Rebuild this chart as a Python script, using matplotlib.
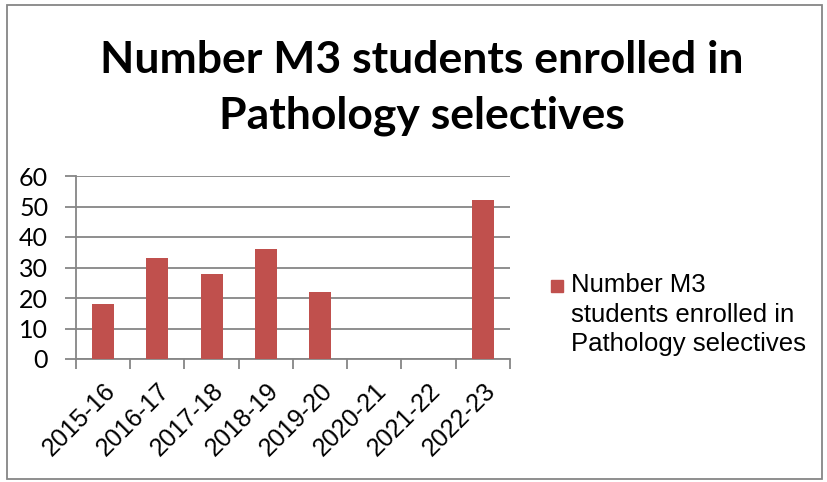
import matplotlib
matplotlib.use('Agg')
import matplotlib.pyplot as plt
from matplotlib.patches import Rectangle

years = ['2015-16', '2016-17', '2017-18', '2018-19', '2019-20', '2020-21', '2021-22', '2022-23']
students = [18, 33, 28, 36, 22, 0, 0, 52]
serie = 'Number M3\nstudents enrolled in\nPathology selectives'
titulo = 'Number M3 students enrolled in\nPathology selectives'

W, H = 828, 482
fig = plt.figure(figsize=(W / 100, H / 100), dpi=100)
ax = fig.add_axes([76 / W, 1 - 359 / H, (510 - 76) / W, (359 - 176) / H])

gris = '#868686'
rojo = '#C0504D'

pos = [i + 0.5 for i in range(len(years))]
ax.bar(pos, students, width=0.41, color=rojo, zorder=3)

ax.set_xlim(0, len(years))
ax.set_ylim(0, 60)
ax.set_yticks(range(0, 61, 10))
ax.yaxis.grid(True, color=gris, linewidth=1.3, zorder=0)
ax.set_xticks(range(len(years) + 1))
ax.set_xticklabels([])
ax.set_xticks(pos, minor=True)
ax.set_xticklabels(years, minor=True, rotation=45, ha='right', va='top',
                   rotation_mode='anchor', fontsize=18, family='Liberation Sans')
ax.tick_params(axis='x', which='minor', length=0, pad=14)
ax.tick_params(axis='x', which='major', length=7, color=gris, width=1.3)
ax.tick_params(axis='y', length=8, color=gris, width=1.3, pad=12)
for t in ax.get_yticklabels():
    t.set_fontsize(18)
    t.set_family('Lato')

for s in ['top', 'right']:
    ax.spines[s].set_visible(False)
for s in ['left', 'bottom']:
    ax.spines[s].set_color(gris)
    ax.spines[s].set_linewidth(1.3)

fig.text(422 / W, 1 - 88 / H, titulo, ha='center', va='center', fontsize=32,
         fontweight='bold', family='Lato', linespacing=1.45)

# leyenda
fig.patches.append(Rectangle((551 / W, 1 - 292 / H), 12 / W, 12 / H,
                             transform=fig.transFigure, color=rojo))
fig.text(571 / W, 1 - 273 / H, serie, ha='left', va='top', fontsize=18.5,
         family='Liberation Sans', linespacing=1.3)

fig.patches.append(Rectangle((7 / W, 3 / H), 815 / W, 474 / H, transform=fig.transFigure,
                             fill=False, edgecolor=gris, linewidth=1.3))

plt.savefig('out.png', dpi=100)
plt.close()
